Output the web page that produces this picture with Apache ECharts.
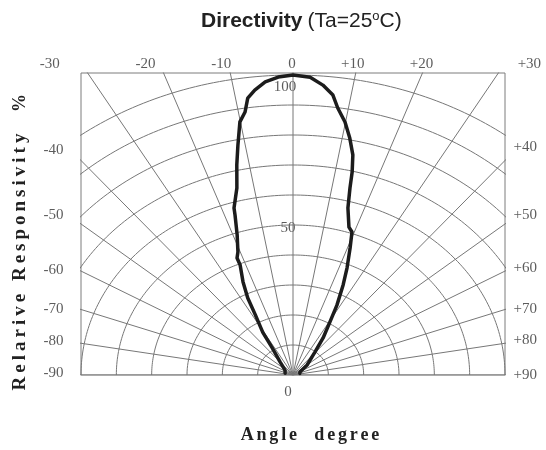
<!DOCTYPE html>
<html>
<head>
<meta charset="utf-8">
<script src="https://cdn.jsdelivr.net/npm/echarts@6/dist/echarts.min.js"></script>
<style>
  html, body { margin: 0; padding: 0; background: #fff; }
  #chart { width: 546px; height: 450px; }
</style>
</head>
<body>
<div id="chart"></div>
<script>
// directivity pattern: angle (deg) vs relative responsivity (%)
const angles = [-75, -54, -40, -33, -31, -28, -26.5, -24.5, -22.2, -22.1, -20.8, -18.7, -17.1, -16.7,
  -14.3, -12.8, -11.5, -10.1, -8.8, -7.9, -6.5, -4.6, -2.4, 0, 2.8, 5.0, 6.9, 8.1, 9.9, 11.5, 13.0,
  13.9, 14.5, 15.6, 17.8, 19.3, 20.9, 23.2, 25.3, 28.1, 30.6, 34.6, 39.1, 50, 63, 75];
const responsivity = [2.3, 2.8, 5.7, 10.8, 16.6, 22.7, 28.7, 34.1, 39.6, 42.1, 43.9, 49.3, 55.8, 58.1,
  64.3, 71.8, 78.2, 85.7, 88.7, 93.2, 95.6, 98.0, 99.4, 100, 99.4, 97.0, 94.0, 89.9, 85.6, 80.6, 75.3,
  69.7, 64.4, 57.8, 51.8, 50.5, 45.3, 38.8, 33.2, 26.4, 20.5, 15.0, 9.9, 5.2, 2.2, 2.0];

const topTicks = [-30, -20, -10, 0, 10, 20, 30];
const sideTicks = [40, 50, 60, 70, 80, 90];
const rings = [10, 20, 30, 40, 50, 60, 70, 80, 90, 100];
const spokes = [-90, -80, -70, -60, -50, -40, -30, -20, -10, 0, 10, 20, 30, 40, 50, 60, 70, 80, 90];
const ringLabels = [100, 50, 0];

const X_MAX = 60;
const Y_MAX = 100.67;
const rad = d => d * Math.PI / 180;
const toXY = (a, r) => [r * Math.sin(rad(a)), r * Math.cos(rad(a))];
const signed = v => (v > 0 ? '+' + v : String(v));

// label nudges (px)
const topDx = { '-30': -38, '-20': -18, '-10': -9, '0': -1, '10': -3, '20': -1, '30': 31 };
const leftDy = { 40: -10, 50: -9, 60: -1, 70: 0, 80: -2, 90: -2 };
const rightDy = { 40: -13, 50: -9, 60: -3, 70: 0, 80: -3, 90: 0 };

const serif = '"Liberation Serif", "Times New Roman", serif';
const sans = '"Liberation Sans", Arial, sans-serif';
const gridColor = '#777';

// spaced-out bold serif text (the original axis titles are letter-spaced)
const spaced = (s, key) => s.split('').map(c => '{' + key + '|' + (c === ' ' ? '\u00a0' : c) + '}').join('');
const spacedRich = {
  y: { fontFamily: serif, fontWeight: 'bold', fontSize: 19, fill: '#222', padding: [0, 2] },
  x: { fontFamily: serif, fontWeight: 'bold', fontSize: 18, fill: '#222', padding: [0, 1.4] }
};

const series = [];

rings.forEach(r => {
  const pts = [];
  for (let a = -90; a <= 90; a += 1) pts.push(toXY(a, r));
  series.push({
    type: 'line', data: pts, symbol: 'none', silent: true, clip: true,
    lineStyle: { color: gridColor, width: 1 }
  });
});

spokes.forEach(a => {
  series.push({
    type: 'line', data: [[0, 0], toXY(a, 200)], symbol: 'none', silent: true, clip: true,
    lineStyle: { color: gridColor, width: 1 }
  });
});

series.push({
  type: 'line',
  data: angles.map((a, i) => toXY(a, responsivity[i])),
  symbol: 'none', clip: true, z: 5,
  lineStyle: { color: '#1c1c1c', width: 3.5, cap: 'round', join: 'round' }
});

const labelBase = { show: true, color: '#333', fontFamily: serif, fontSize: 15 };

// top angle labels
series.push({
  type: 'scatter', clip: false, silent: true, symbolSize: 1,
  itemStyle: { color: 'rgba(0,0,0,0)' },
  data: topTicks.map(t => ({
    value: [Y_MAX * Math.tan(rad(t)), Y_MAX],
    label: Object.assign({}, labelBase, {
      position: 'inside', offset: [topDx[t], -9], formatter: signed(t)
    })
  }))
});

// side angle labels
series.push({
  type: 'scatter', clip: false, silent: true, symbolSize: 1,
  itemStyle: { color: 'rgba(0,0,0,0)' },
  data: sideTicks.map(t => ({
    value: [-X_MAX, t === 90 ? 0 : X_MAX / Math.tan(rad(t))],
    label: Object.assign({}, labelBase, {
      position: 'left', distance: 17, offset: [0, leftDy[t]], formatter: String(-t)
    })
  })).concat(sideTicks.map(t => ({
    value: [X_MAX, t === 90 ? 0 : X_MAX / Math.tan(rad(t))],
    label: Object.assign({}, labelBase, {
      position: 'right', distance: 8, offset: [0, rightDy[t]], formatter: signed(t)
    })
  })))
});

// ring value labels on the 0 deg axis
const ringOffsets = { 100: [-8, 12], 50: [-5, 3], 0: [-5, 17] };
series.push({
  type: 'scatter', clip: false, silent: true, symbolSize: 1,
  itemStyle: { color: 'rgba(0,0,0,0)' },
  data: ringLabels.map(v => ({
    value: [0, v],
    label: Object.assign({}, labelBase, {
      position: 'inside', offset: ringOffsets[v], formatter: String(v)
    })
  }))
});

const chart = echarts.init(document.getElementById('chart'));
chart.setOption({
  animation: false,
  backgroundColor: '#fff',
  title: {
    left: 201, top: 10, padding: 0,
    text: '{b|Directivity} {n|(Ta=25}{s|o}{n|C)}',
    textStyle: {
      fontWeight: 'normal',
      rich: {
        b: { fontFamily: sans, fontWeight: 'bold', fontSize: 21, color: '#222' },
        n: { fontFamily: sans, fontWeight: 'normal', fontSize: 21, color: '#222' },
        s: { fontFamily: sans, fontWeight: 'normal', fontSize: 13, color: '#222', verticalAlign: 'top', padding: [0, 0, 9, 0] }
      }
    }
  },
  grid: {
    left: 81, right: 41, top: 73, bottom: 75,
    show: true, borderColor: '#7c7c7c', borderWidth: 1,
    outerBoundsMode: 'none'
  },
  xAxis: { type: 'value', min: -X_MAX, max: X_MAX, show: false },
  yAxis: { type: 'value', min: 0, max: Y_MAX, show: false },
  graphic: [
    {
      type: 'text', x: 20, y: 262, rotation: Math.PI / 2,
      style: {
        text: spaced('Relarive Responsivity', 'y'), rich: spacedRich,
        align: 'center', verticalAlign: 'middle'
      }
    },
    {
      type: 'text', x: 20, y: 103, rotation: Math.PI / 2,
      style: {
        text: '%', fill: '#222',
        font: 'bold 18px ' + serif, align: 'center', verticalAlign: 'middle'
      }
    },
    {
      type: 'text', x: 310, y: 435,
      style: {
        text: spaced('Angle  degree', 'x'), rich: spacedRich,
        align: 'center', verticalAlign: 'middle'
      }
    }
  ],
  series: series
});
</script>
</body>
</html>
